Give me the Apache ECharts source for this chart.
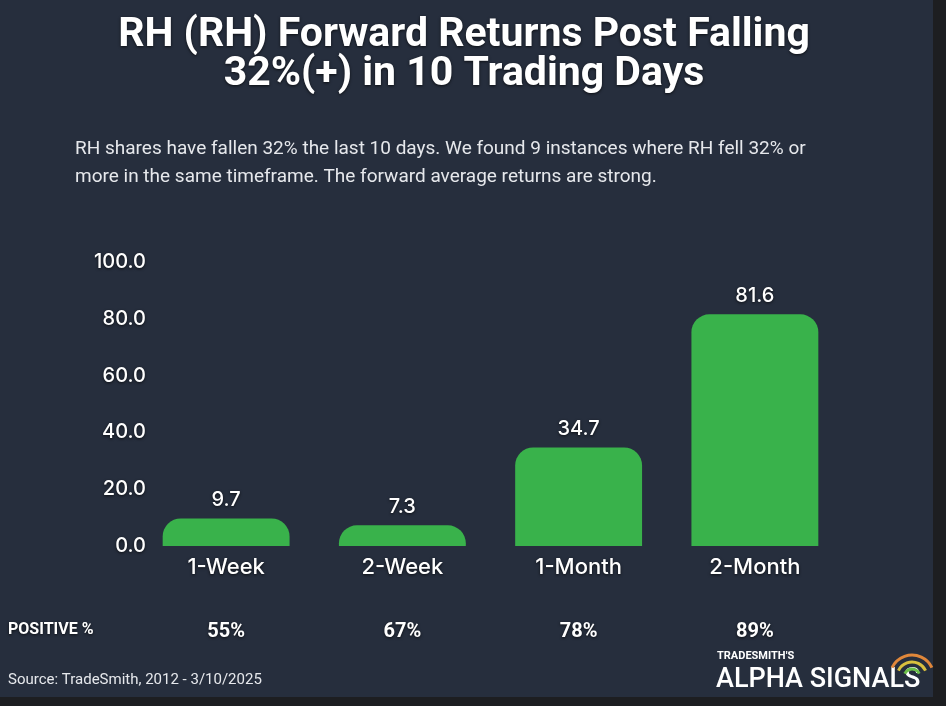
<!DOCTYPE html>
<html>
<head>
<meta charset="utf-8">
<script src="https://cdn.jsdelivr.net/npm/echarts@6/dist/echarts.min.js"></script>
<style>
  html, body { margin: 0; padding: 0; background: #1d1e21; }
  #main { width: 946px; height: 706px; }
</style>
</head>
<body>
<div id="main"></div>
<script>
var categories = ['1-Week', '2-Week', '1-Month', '2-Month'];
var avgReturns = [9.7, 7.3, 34.7, 81.6];
var positivePct = ['55%', '67%', '78%', '89%'];

var chart = echarts.init(document.getElementById('main'));

var shadow = { textShadowColor: 'rgba(0,0,0,0.7)', textShadowBlur: 3, textShadowOffsetY: 1 };

var option = {
    backgroundColor: '#1d1e21',
    animation: false,
    grid: { left: 138, right: 103, top: 262, bottom: 160 },
    xAxis: {
        type: 'category',
        data: categories,
        axisLine: { show: false },
        axisTick: { show: false },
        axisLabel: Object.assign({
            color: '#ffffff',
            fontFamily: 'Inter',
            fontWeight: 500,
            fontSize: 22,
            margin: 10
        }, shadow)
    },
    yAxis: {
        type: 'value',
        min: 0,
        max: 100,
        interval: 20,
        splitLine: { show: false },
        axisLabel: Object.assign({
            color: '#ffffff',
            fontFamily: 'Inter',
            fontWeight: 500,
            fontSize: 20,
            margin: -8,
            formatter: function (v) { return v.toFixed(1); }
        }, shadow)
    },
    series: [{
        type: 'bar',
        data: avgReturns,
        barWidth: '72%',
        itemStyle: { color: '#39b24b', borderRadius: [18, 18, 0, 0] },
        label: Object.assign({
            show: true,
            position: 'top',
            distance: 8,
            color: '#ffffff',
            fontFamily: 'Inter',
            fontWeight: 500,
            fontSize: 20,
            formatter: function (p) { return p.value.toFixed(1); }
        }, shadow)
    }]
};

chart.setOption(option);

var elements = [
    { type: 'rect', z: -10, shape: { x: 0, y: 0, width: 933, height: 697 }, style: { fill: '#262e3d' } },
    { type: 'text', x: 464, y: 16, style: Object.assign({
        text: 'RH (RH) Forward Returns Post Falling\n32%(+) in 10 Trading Days',
        fill: '#ffffff', font: 'bold 41px Roboto', lineHeight: 39, align: 'center' }, shadow) },
    { type: 'text', x: 75, y: 135, style: {
        text: 'RH shares have fallen 32% the last 10 days. We found 9 instances where RH fell 32% or\nmore in the same timeframe. The forward average returns are strong.',
        fill: '#e6e8ec', font: '19px Roboto', lineHeight: 28 } },
    { type: 'text', x: 8, y: 622, style: Object.assign({
        text: 'POSITIVE %', fill: '#ffffff', font: 'bold 16px Roboto' }, shadow) },
    { type: 'text', x: 8, y: 673, style: {
        text: 'Source: TradeSmith, 2012 - 3/10/2025', fill: '#e6e8ec', font: '15px Roboto' } },
    { type: 'text', x: 717, y: 651, style: {
        text: 'TRADESMITH\'S', fill: '#ffffff', font: 'bold 11px Roboto' } },
    { type: 'text', x: 716, y: 667, style: {
        text: 'ALPHA SIGNALS', fill: '#ffffff', font: '500 27px Roboto' } }
];

var arcColors = ['#6cbf4a', '#d9c03e', '#e0873a'];
arcColors.forEach(function (c, i) {
    elements.push({
        type: 'arc',
        shape: { cx: 912, cy: 677, r: 8 + i * 7, startAngle: -Math.PI * 0.86, endAngle: -Math.PI * 0.14 },
        style: { stroke: c, lineWidth: 3, fill: null }
    });
});

categories.forEach(function (cat, i) {
    var px = chart.convertToPixel({ xAxisIndex: 0 }, cat);
    elements.push({
        type: 'text', x: px, y: 632,
        style: Object.assign({
            text: positivePct[i], fill: '#ffffff', font: 'bold 20px Roboto',
            align: 'center', verticalAlign: 'middle' }, shadow)
    });
});

chart.setOption({ graphic: elements });
</script>
</body>
</html>
